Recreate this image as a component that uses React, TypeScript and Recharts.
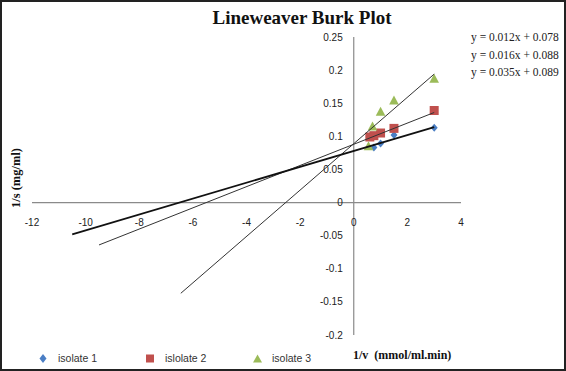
import React from 'react';
import { ScatterChart, Scatter, XAxis, YAxis, ReferenceLine, Legend } from 'recharts';

// 1/v (x) vs 1/s (y) readings per isolate
const isolate1 = [
  { x: 0.75, y: 0.083 },
  { x: 1.0, y: 0.089 },
  { x: 1.5, y: 0.102 },
  { x: 3.0, y: 0.113 },
];
const isolate2 = [
  { x: 0.6, y: 0.099 },
  { x: 0.75, y: 0.101 },
  { x: 1.0, y: 0.105 },
  { x: 1.5, y: 0.112 },
  { x: 3.0, y: 0.139 },
];
const isolate3 = [
  { x: 0.55, y: 0.085 },
  { x: 0.7, y: 0.115 },
  { x: 1.0, y: 0.137 },
  { x: 1.5, y: 0.154 },
  { x: 3.0, y: 0.187 },
];

// trendline end points, extended back to the left
const trend1 = [
  { x: -10.5, y: -0.048 },
  { x: 3.0, y: 0.114 },
];
const trend2 = [
  { x: -9.5, y: -0.064 },
  { x: 3.0, y: 0.136 },
];
const trend3 = [
  { x: -6.45, y: -0.137 },
  { x: 3.0, y: 0.194 },
];

const seriesNames = ['isolate 1', 'islolate 2', 'isolate 3'];
const equations = ['y = 0.012x + 0.078', 'y = 0.016x + 0.088', 'y = 0.035x + 0.089'];

const xTicks = [-12, -10, -8, -6, -4, -2, 0, 2, 4];
const yTicks = [-0.2, -0.15, -0.1, -0.05, 0, 0.05, 0.1, 0.15, 0.2, 0.25];
const X_DOMAIN: [number, number] = [-12, 4];
const Y_DOMAIN: [number, number] = [-0.2, 0.25];

const W = 566;
const H = 371;
const X_AXIS_H = 30;
const Y_AXIS_W = 30;
const MARGIN = { top: 37, right: 105, bottom: 36 - X_AXIS_H, left: 32 - Y_AXIS_W };

const BLUE = '#4a7ec4';
const RED = '#c0504d';
const GREEN = '#9bbb59';
const AXIS = '#8a8a8a';
const TICK_FONT = 'Arial, "Liberation Sans", sans-serif';
const SERIF = '"Times New Roman", "Liberation Serif", serif';

// where the zero lines fall inside the plot area
const plotLeft = 32;
const plotTop = 37;
const plotW = W - plotLeft - MARGIN.right;
const plotH = H - plotTop - 36;
const ZERO_X = plotLeft + ((0 - X_DOMAIN[0]) / (X_DOMAIN[1] - X_DOMAIN[0])) * plotW;
const ZERO_Y = plotTop + ((Y_DOMAIN[1] - 0) / (Y_DOMAIN[1] - Y_DOMAIN[0])) * plotH;

const XTick = (props: any) => (
  <text
    x={props.x}
    y={ZERO_Y + 20}
    textAnchor="middle"
    dominantBaseline="central"
    fontSize={10}
    fontFamily={TICK_FONT}
    fill="#222"
  >
    {props.payload.value}
  </text>
);

const YTick = (props: any) => (
  <text
    x={ZERO_X - 11}
    y={props.y}
    textAnchor="end"
    dominantBaseline="central"
    fontSize={10}
    fontFamily={TICK_FONT}
    fill="#222"
  >
    {props.payload.value}
  </text>
);

const Diamond = (p: any) => (
  <polygon
    points={`${p.cx},${p.cy - 4} ${p.cx + 3.5},${p.cy} ${p.cx},${p.cy + 4} ${p.cx - 3.5},${p.cy}`}
    fill={BLUE}
  />
);
const Square = (p: any) => <rect x={p.cx - 4.5} y={p.cy - 4.5} width={9} height={9} fill={RED} />;
const Triangle = (p: any) => (
  <polygon
    points={`${p.cx},${p.cy - 5} ${p.cx + 4.8},${p.cy + 4} ${p.cx - 4.8},${p.cy + 4}`}
    fill={GREEN}
  />
);
const NoDot = () => <g />;

const legendIcon = (type: string, color: string) => {
  if (type === 'diamond')
    return <polygon points="4,0 7.5,4.5 4,9 0.5,4.5" fill={color} />;
  if (type === 'square') return <rect x={0} y={0.5} width={8} height={8} fill={color} />;
  return <polygon points="4.5,0.5 9,8.5 0,8.5" fill={color} />;
};

const LegendContent = (props: any) => {
  const items = (props.payload || [])
    .filter((p: any) => p.type !== 'none')
    .sort((a: any, b: any) => seriesNames.indexOf(a.value) - seriesNames.indexOf(b.value));
  return (
    <div style={{ display: 'flex', fontFamily: TICK_FONT, fontSize: 10.5, color: '#333' }}>
      {items.map((p: any) => (
        <div key={p.value} style={{ width: 107, display: 'flex', alignItems: 'center' }}>
          <svg width={9} height={9} style={{ marginRight: 10 }}>
            {legendIcon(p.type, p.color)}
          </svg>
          <span>{p.value}</span>
        </div>
      ))}
    </div>
  );
};

export default function App() {
  return (
    <div
      style={{
        position: 'absolute',
        left: 0,
        top: 0,
        width: W,
        height: H,
        background: '#fff',
        border: '2px solid #222',
        boxSizing: 'border-box',
      }}
    >
      <div style={{ position: 'absolute', left: -2, top: -2 }}>
        <ScatterChart width={W} height={H} margin={MARGIN}>
          <XAxis
            type="number"
            dataKey="x"
            domain={X_DOMAIN}
            ticks={xTicks}
            allowDataOverflow
            height={X_AXIS_H}
            axisLine={false}
            tickLine={false}
            tick={<XTick />}
            interval={0}
          />
          <YAxis
            type="number"
            dataKey="y"
            domain={Y_DOMAIN}
            ticks={yTicks}
            allowDataOverflow
            width={Y_AXIS_W}
            axisLine={false}
            tickLine={false}
            tick={<YTick />}
            interval={0}
          />
          <ReferenceLine y={0} stroke={AXIS} strokeWidth={1.2} />
          <ReferenceLine x={0} stroke={AXIS} strokeWidth={1.2} />
          <Scatter
            name={seriesNames[0]}
            data={isolate1}
            shape={<Diamond />}
            legendType="diamond"
            fill={BLUE}
            isAnimationActive={false}
          />
          <Scatter
            name={seriesNames[1]}
            data={isolate2}
            shape={<Square />}
            legendType="square"
            fill={RED}
            isAnimationActive={false}
          />
          <Scatter
            name={seriesNames[2]}
            data={isolate3}
            shape={<Triangle />}
            legendType="triangle"
            fill={GREEN}
            isAnimationActive={false}
          />
          <Scatter
            name="trend 3"
            data={trend3}
            shape={<NoDot />}
            line={{ stroke: '#333', strokeWidth: 1 }}
            legendType="none"
            isAnimationActive={false}
          />
          <Scatter
            name="trend 2"
            data={trend2}
            shape={<NoDot />}
            line={{ stroke: '#333', strokeWidth: 1 }}
            legendType="none"
            isAnimationActive={false}
          />
          <Scatter
            name="trend 1"
            data={trend1}
            shape={<NoDot />}
            line={{ stroke: '#111', strokeWidth: 1.8 }}
            legendType="none"
            isAnimationActive={false}
          />
          <Legend
            content={<LegendContent />}
            layout="horizontal"
            verticalAlign="middle"
            align="center"
            wrapperStyle={{ position: 'absolute', left: 39, top: 352, width: 340 }}
          />
        </ScatterChart>
      </div>
      <div
        style={{
          position: 'absolute',
          left: 0,
          width: 600,
          top: 5,
          textAlign: 'center',
          fontFamily: SERIF,
          fontWeight: 'bold',
          fontSize: 19,
          color: '#111',
        }}
      >
        Lineweaver Burk Plot
      </div>
      <div
        style={{
          position: 'absolute',
          left: 469,
          top: 27,
          fontFamily: SERIF,
          fontSize: 11.5,
          lineHeight: '17.5px',
          color: '#222',
        }}
      >
        {equations.map((e) => (
          <div key={e}>{e}</div>
        ))}
      </div>
      <div
        style={{
          position: 'absolute',
          left: 351,
          top: 346,
          fontFamily: SERIF,
          fontWeight: 'bold',
          fontSize: 12,
          color: '#111',
          whiteSpace: 'pre',
        }}
      >
        {'1/v  (mmol/ml.min)'}
      </div>
      <div
        style={{
          position: 'absolute',
          left: 14,
          top: 176,
          transform: 'translate(-50%, -50%) rotate(-90deg)',
          fontFamily: SERIF,
          fontWeight: 'bold',
          fontSize: 12.5,
          color: '#111',
          whiteSpace: 'nowrap',
        }}
      >
        1/s (mg/ml)
      </div>
    </div>
  );
}
